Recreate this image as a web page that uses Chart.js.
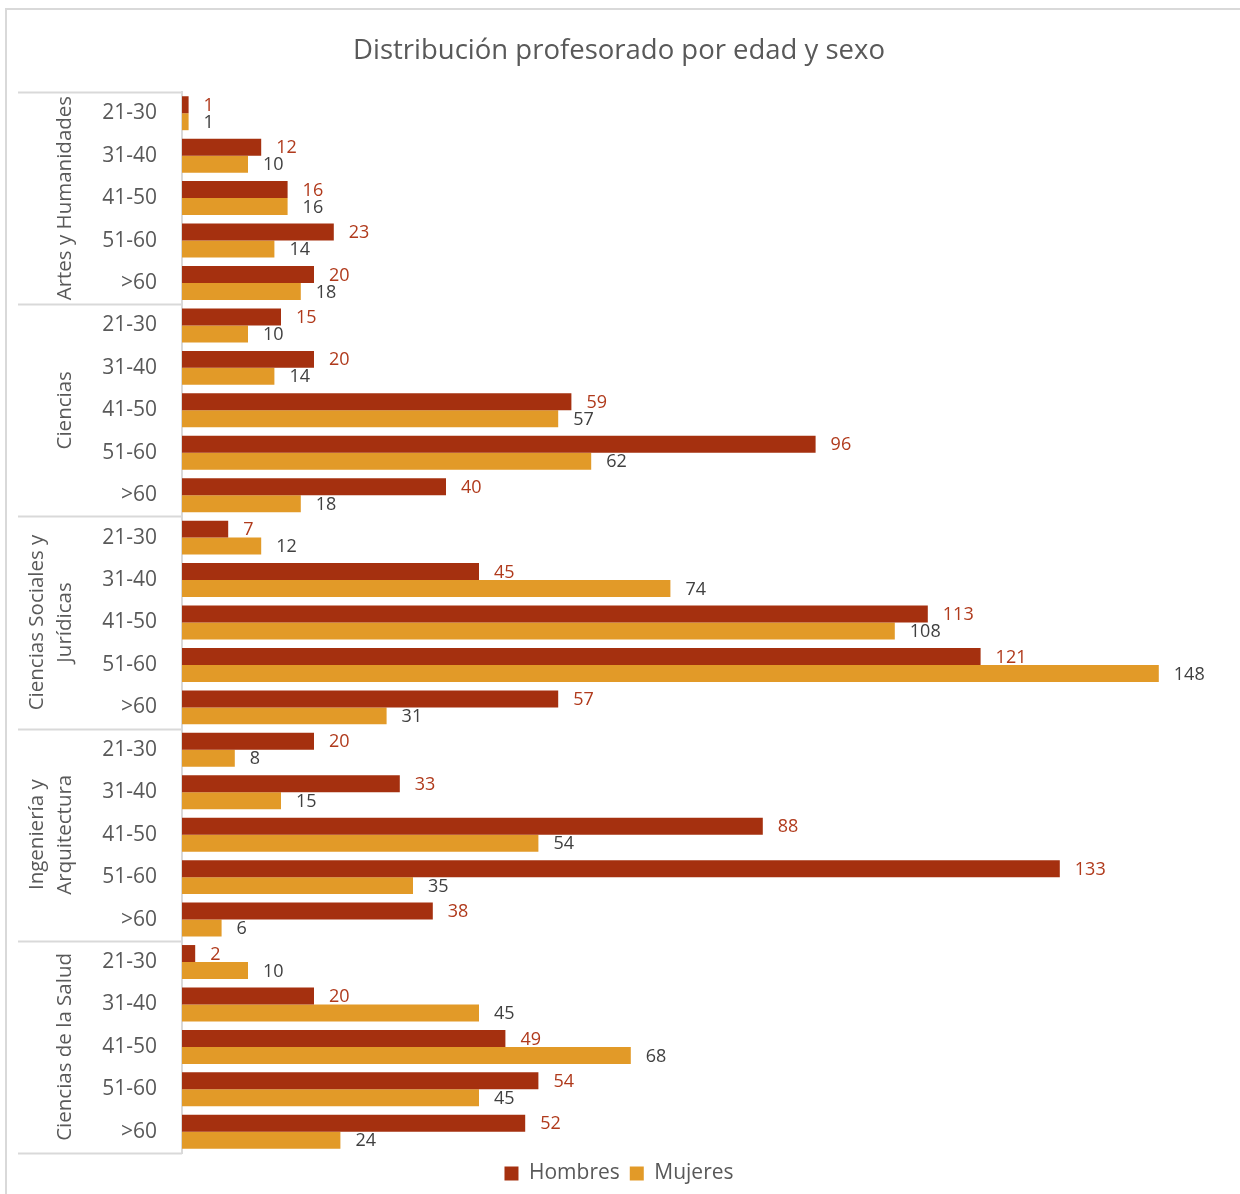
<!DOCTYPE html>
<html>
<head>
<meta charset="utf-8">
<script src="https://cdn.jsdelivr.net/npm/chart.js@4.4.1/dist/chart.umd.min.js"></script>
<style>
  html, body { margin: 0; padding: 0; background: #fff; }
  #wrap { position: relative; width: 1240px; height: 1194px; overflow: hidden; }
  #frame { position: absolute; left: 5px; top: 8px; width: 1300px; height: 1300px; border: 2px solid #D9D9D9; box-sizing: border-box; }
  #c { position: absolute; left: 0; top: 0; }
</style>
</head>
<body>
<div id="wrap">
  <div id="frame"></div>
  <canvas id="c" width="1240" height="1194"></canvas>
</div>
<script>
const FONT = '"Open Sans", sans-serif';
const groups = [
  ["Artes y Humanidades"],
  ["Ciencias"],
  ["Ciencias Sociales y", "Jurídicas"],
  ["Ingeniería y", "Arquitectura"],
  ["Ciencias de la Salud"]
];
const ages = ["21-30", "31-40", "41-50", "51-60", ">60"];
const hombres = [
  1, 12, 16, 23, 20,
  15, 20, 59, 96, 40,
  7, 45, 113, 121, 57,
  20, 33, 88, 133, 38,
  2, 20, 49, 54, 52
];
const mujeres = [
  1, 10, 16, 14, 18,
  10, 14, 57, 62, 18,
  12, 74, 108, 148, 31,
  8, 15, 54, 35, 6,
  10, 45, 68, 45, 24
];
const labels = [];
groups.forEach(() => ages.forEach(a => labels.push(a)));

const COL_H = '#A5300F';
const COL_M = '#E29A28';
const COL_TXT = '#595959';
const GRID = '#D9D9D9';

const valueLabels = {
  id: 'valueLabels',
  afterDatasetsDraw(chart) {
    const ctx = chart.ctx;
    ctx.save();
    ctx.font = '18px ' + FONT;
    ctx.textAlign = 'left';
    ctx.textBaseline = 'middle';
    chart.data.datasets.forEach((ds, di) => {
      const meta = chart.getDatasetMeta(di);
      ctx.fillStyle = di === 0 ? '#B03A1C' : '#404040';
      meta.data.forEach((el, i) => {
        ctx.fillText(String(ds.data[i]), el.x + 15, el.y + 1);
      });
    });
    ctx.restore();
  }
};

const groupAxis = {
  id: 'groupAxis',
  afterDraw(chart) {
    const ctx = chart.ctx;
    const y = chart.scales.y;
    const n = ages.length;
    const step = (y.bottom - y.top) / labels.length;
    const left = 18, right = chart.chartArea.left;
    ctx.save();
    ctx.strokeStyle = GRID;
    ctx.lineWidth = 2;
    for (let g = 0; g <= groups.length; g++) {
      const yy = Math.round(y.top + g * n * step) + 0.5;
      ctx.beginPath();
      ctx.moveTo(left, yy);
      ctx.lineTo(right, yy);
      ctx.stroke();
    }
    ctx.font = '20.5px ' + FONT;
    ctx.fillStyle = COL_TXT;
    ctx.textAlign = 'center';
    ctx.textBaseline = 'middle';
    groups.forEach((lines, g) => {
      const cy = y.top + (g + 0.5) * n * step;
      lines.forEach((txt, li) => {
        const cx = 65 - (lines.length - 1 - li) * 28;
        ctx.save();
        ctx.translate(cx, cy);
        ctx.rotate(-Math.PI / 2);
        ctx.fillText(txt, 0, 0);
        ctx.restore();
      });
    });
    ctx.restore();
  }
};

new Chart(document.getElementById('c'), {
  type: 'bar',
  data: {
    labels: labels,
    datasets: [
      { label: 'Hombres', data: hombres, backgroundColor: COL_H, categoryPercentage: 0.8, barPercentage: 1.0 },
      { label: 'Mujeres', data: mujeres, backgroundColor: COL_M, categoryPercentage: 0.8, barPercentage: 1.0 }
    ]
  },
  options: {
    responsive: false,
    animation: false,
    indexAxis: 'y',
    layout: { padding: { left: 0, right: 2, top: 0, bottom: 0 } },
    scales: {
      x: { display: false, min: 0, max: 160 },
      y: {
        grid: { display: false },
        border: { display: true, color: GRID, width: 2 },
        ticks: { color: COL_TXT, font: { family: FONT, size: 21 }, padding: 17, autoSkip: false },
        afterFit(scale) { scale.width = 182; }
      }
    },
    plugins: {
      title: {
        display: true,
        text: 'Distribución profesorado por edad y sexo',
        color: COL_TXT,
        font: { family: FONT, size: 27.5, weight: 'normal' },
        padding: { top: 35, bottom: 24 }
      },
      legend: {
        position: 'bottom',
        labels: { color: COL_TXT, font: { family: FONT, size: 21 }, boxWidth: 14, boxHeight: 14, padding: 10 }
      },
      tooltip: { enabled: false }
    }
  },
  plugins: [valueLabels, groupAxis]
});
</script>
</body>
</html>
